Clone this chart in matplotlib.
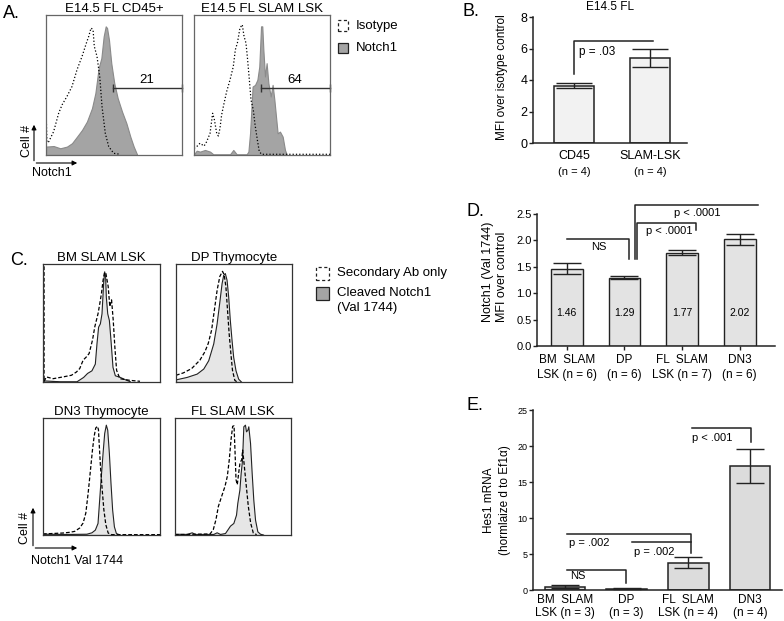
import numpy as np
import matplotlib.pyplot as plt
from matplotlib.patches import Rectangle, FancyArrowPatch

plt.rcParams['font.family'] = ['Liberation Sans', 'DejaVu Sans']

W, H = 784, 621

# ---------------- data ----------------
# A: flow histograms (x = channel, % of axis; y = % of max)
a1_title = 'E14.5 FL CD45+'
a1_notch_x = [0, 5.6, 10.5, 15.4, 19.1, 22.8, 26.5, 30.1, 33.8, 36.3, 38.7, 40.7, 42.4, 43.9,
              44.9, 46.3, 48.0, 50.2, 52.7, 55.9, 59.1, 62.0, 64.5, 66.9]
a1_notch_y = [6.0, 6.4, 4.8, 6.0, 8.4, 13.1, 17.9, 23.9, 33.4, 44.2, 62.1, 69.2, 84.7, 91.9,
              90.7, 82.3, 65.6, 51.3, 40.6, 31.0, 22.7, 13.1, 6.0, 0.5]
a1_iso_x = [0, 0.7, 2.0, 5.6, 9.3, 11.8, 15.4, 19.1, 22.8, 26.5, 29.7, 31.4, 33.1, 34.6, 35.5,
            37.5, 39.5, 41.2, 43.6, 46.1, 49.8, 54.7]
a1_iso_y = [34, 9, 9.5, 16.7, 29.8, 35.8, 41.8, 48.9, 60.9, 70.4, 80.0, 84.7, 90.7, 89.5, 77.6,
            70.4, 56.1, 34.6, 15.5, 6.0, 1.2, 0.5]

a2_title = 'E14.5 FL SLAM LSK'
a2_notch_x = [0, 2.0, 4.4, 8.1, 11.8, 14.2, 26.5, 28.9, 31.4, 38.7, 40.0, 41.2, 43.1, 44.9, 46.6,
              48.0, 49.3, 50.2, 51.0, 52.2, 53.4, 54.7, 56.4, 57.8, 59.1, 60.3, 61.5, 63.2, 65.2,
              66.9, 68.1]
a2_notch_y = [0.5, 3.1, 2.4, 3.6, 2.4, 0.5, 0.5, 3.6, 0.5, 0.5, 2.4, 15.5, 48.9, 50.1, 53.7,
              63.2, 91.9, 91.9, 75.2, 56.1, 65.6, 51.3, 41.8, 50.1, 39.4, 27.4, 15.5, 16.7, 13.1,
              3.6, 0.5]
a2_iso_x = [0, 2.0, 4.4, 7.4, 9.3, 11.8, 13.7, 15.0, 16.7, 17.9, 19.1, 20.3, 22.1, 24.0, 26.5,
            28.9, 30.4, 31.9, 33.8, 35.5, 36.8, 38.2, 39.2, 40.7, 41.9, 43.6, 44.9, 46.6, 48.0,
            49.8, 100]
a2_iso_y = [4.8, 6.0, 8.4, 6.4, 9.5, 15.5, 29.8, 25.1, 15.5, 13.6, 19.1, 28.6, 37.0, 45.3, 53.7,
            63.2, 75.2, 80.0, 90.7, 93.1, 84.7, 80.0, 70.4, 53.7, 39.4, 32.2, 21.5, 10.7, 2.4,
            0.5, 0.5]
a_gate_pct = ['21', '64']

# C: cleaved Notch1 (solid) vs secondary only (dashed)
c1_title = 'BM SLAM LSK'
c1_n1_x = [0, 14.3, 28.6, 34.3, 37.7, 41.4, 44.3, 45.7, 47.1, 48.6, 50.0, 51.4, 52.3, 53.1, 53.7,
           54.9, 56.3, 57.7, 59.4, 61.4, 65.7, 70.0, 74.3]
c1_n1_y = [1.4, 0.6, 0.6, 4.3, 7.7, 9.9, 15.6, 32.7, 46.9, 49.7, 58.2, 83.8, 93.8, 89.5, 72.4,
           58.2, 52.6, 35.5, 12.8, 5.7, 4.3, 2.3, 0.6]
c1_sec_x = [0.9, 0.9, 2.9, 8.6, 17.1, 24.3, 28.6, 31.4, 34.3, 37.1, 39.4, 42.3, 44.3, 47.1, 48.6,
            50.0, 51.4, 52.6, 53.7, 55.7, 57.1, 58.6, 60.0, 61.4, 62.9, 65.7, 74.3, 82.9]
c1_sec_y = [98, 0.5, 4.3, 2.8, 4.3, 5.7, 8.5, 11.4, 18.5, 21.3, 24.1, 35.5, 46.9, 58.2, 66.8,
            75.3, 86.6, 92.9, 92.3, 81.0, 63.9, 69.6, 52.6, 29.8, 9.9, 2.8, 1.4, 0.6]

c2_title = 'DP Thymocyte'
c2_n1_x = [0, 9.2, 17.8, 23.5, 27.8, 32.1, 35.0, 37.2, 39.3, 40.7, 42.1, 43.6, 45.0, 46.4, 47.9,
           49.3, 51.3, 53.6, 56.4]
c2_n1_y = [2.3, 4.3, 7.1, 11.4, 18.5, 32.7, 49.7, 66.8, 83.8, 90.9, 92.3, 86.6, 72.4, 52.6, 35.5,
           21.3, 9.9, 2.8, 0]
c2_sec_x = [0, 6.3, 13.5, 20.6, 24.9, 27.8, 30.7, 33.5, 35.5, 37.8, 40.1, 41.5, 43.0, 44.4, 45.8,
            47.3, 48.7, 50.7, 52.7]
c2_sec_y = [5.7, 7.7, 11.4, 18.5, 25.6, 32.7, 44.0, 63.9, 78.1, 89.5, 93.8, 90.9, 81.0, 61.1,
            41.2, 24.1, 9.9, 1.4, 0]

c3_title = 'DN3 Thymocyte'
c3_n1_x = [0, 20, 37.1, 41.4, 44.3, 46.6, 48.0, 49.4, 50.9, 52.3, 53.7, 54.9, 56.3, 57.7, 59.1,
           60.6, 62.3, 65.7]
c3_n1_y = [1.1, 0.9, 1.1, 2.3, 4.6, 10.3, 30.2, 50.1, 70.1, 87.2, 94.3, 90.0, 70.1, 44.4, 21.7,
           7.4, 1.7, 0.3]
c3_sec_x = [0, 17.1, 22.9, 27.1, 31.4, 34.3, 36.6, 38.6, 40.6, 42.3, 43.7, 45.1, 46.6, 47.4,
            48.0, 49.1, 50.6, 52.0, 53.7, 55.7, 58.6, 100]
c3_sec_y = [0.9, 1.7, 2.3, 3.1, 6.0, 10.3, 18.8, 35.9, 55.8, 72.9, 84.3, 91.5, 92.9, 90.0, 78.6,
            58.7, 38.7, 21.7, 8.8, 1.7, 0.3, 0.3]

c4_title = 'FL SLAM LSK'
c4_n1_x = [0, 10.1, 14.4, 17.2, 33.0, 35.9, 38.8, 43.1, 45.1, 47.4, 50.3, 52.6, 53.7, 55.5, 56.6,
           57.8, 58.9, 60.3, 61.2, 62.4, 63.2, 64.7, 66.1, 67.5, 69.0, 71.0, 73.3, 76.1]
c4_n1_y = [1.1, 0.9, 2.3, 0.9, 0.9, 2.3, 0.9, 1.7, 4.6, 8.0, 10.3, 17.4, 27.4, 38.7, 53.0, 64.4,
           92.9, 94.3, 88.6, 90.0, 92.9, 78.6, 53.0, 30.2, 13.1, 3.1, 1.1, 0.3]
c4_sec_x = [0, 30.2, 33.0, 35.3, 37.4, 40.2, 43.1, 45.1, 46.8, 48.3, 49.7, 50.9, 51.7, 52.6,
            53.7, 54.9, 56.0, 57.5, 58.3, 59.5, 61.2, 63.2, 65.2, 67.5, 70.4]
c4_sec_y = [0.3, 0.9, 4.6, 13.1, 24.5, 33.0, 41.6, 50.1, 64.4, 81.5, 92.9, 93.4, 72.6, 47.3,
            43.0, 53.0, 61.5, 64.4, 72.6, 61.5, 44.4, 24.5, 10.3, 1.7, 0.3]

# B: MFI over isotype control, E14.5 FL
b_groups = ['CD45', 'SLAM-LSK']
b_n = ['(n = 4)', '(n = 4)']
b_mean = [3.65, 5.42]
b_err = [0.15, 0.57]

# D: Notch1 (Val 1744) MFI over control
d_groups = ['BM  SLAM\nLSK (n = 6)', 'DP\n(n = 6)', 'FL  SLAM\nLSK (n = 7)', 'DN3\n(n = 6)']
d_mean = [1.46, 1.29, 1.77, 2.02]
d_err = [0.105, 0.03, 0.05, 0.11]

# E: Hes1 mRNA normalised to Ef1a
e_groups = ['BM  SLAM\nLSK (n = 3)', 'DP\n(n = 3)', 'FL  SLAM\nLSK (n = 4)', 'DN3\n(n = 4)']
e_mean = [0.45, 0.15, 3.8, 17.2]
e_err = [0.2, 0.06, 0.8, 2.4]

# ---------------- helpers ----------------
fig = plt.figure(figsize=(W / 100, H / 100), dpi=100)


def px_axes(x0, y0, x1, y1):
    return fig.add_axes([x0 / W, 1 - y1 / H, (x1 - x0) / W, (y1 - y0) / H])


def ftext(x, y, s, **kw):
    fig.text(x / W, 1 - y / H, s, **kw)


def arrow(x0, y0, x1, y1):
    fig.add_artist(FancyArrowPatch((x0 / W, 1 - y0 / H), (x1 / W, 1 - y1 / H),
                                   transform=fig.transFigure, arrowstyle='-|>',
                                   mutation_scale=7, lw=0.8, color='k'))


def swatch(x0, y0, x1, y1, **kw):
    fig.add_artist(Rectangle((x0 / W, 1 - y1 / H), (x1 - x0) / W, (y1 - y0) / H,
                             transform=fig.transFigure, **kw))


def flow_box(box, title, fx, fy, dx, dy, fill, edge, dash, frame):
    ax = px_axes(*box)
    ax.fill_between(fx, fy, 0, facecolor=fill, edgecolor=edge, lw=0.8)
    ax.plot(dx, dy, color='k', ls=dash, lw=0.9)
    ax.set_xlim(0, 100)
    ax.set_ylim(0, 100)
    ax.set_xticks([])
    ax.set_yticks([])
    for s in ax.spines.values():
        s.set_color(frame)
        s.set_linewidth(0.9)
    ax.set_title(title, fontsize=9.5, pad=2)
    return ax


def bar_axes(ax):
    ax.spines['top'].set_visible(False)
    ax.spines['right'].set_visible(False)
    for s in ['left', 'bottom']:
        ax.spines[s].set_linewidth(1.1)
        ax.spines[s].set_color('#222')
    ax.tick_params(axis='x', length=0)
    ax.tick_params(axis='y', length=3, width=1, color='#222', pad=1)


def bracket(ax, xs, ys):
    ax.plot(xs, ys, color='#222', lw=1.1, clip_on=False)


# ---------------- panel A ----------------
ftext(3, 13, 'A.', fontsize=13, va='center')
for box, title, nx, ny, ix, iy, pct in [
        ((46, 15, 182, 155), a1_title, a1_notch_x, a1_notch_y, a1_iso_x, a1_iso_y, a_gate_pct[0]),
        ((194, 15, 330, 155), a2_title, a2_notch_x, a2_notch_y, a2_iso_x, a2_iso_y, a_gate_pct[1])]:
    ax = flow_box(box, title, nx, ny, ix, iy, '#a4a4a4', '#8a8a8a', ':', '#666')
    ax.plot([49, 100], [47.7, 47.7], color='#333', lw=1.0, marker='|', markersize=6,
            clip_on=False)
    ax.text(74, 49.5, pct, ha='center', va='bottom', fontsize=9.5)

swatch(338, 20, 348, 31, facecolor='none', edgecolor='#222', lw=0.9, ls=(0, (2.5, 2)))
ftext(356, 26, 'Isotype', fontsize=9.5, va='center')
swatch(338, 43, 348, 53, facecolor='#a4a4a4', edgecolor='#222', lw=0.9)
ftext(356, 48, 'Notch1', fontsize=9.5, va='center')

arrow(34, 163.5, 34, 122)
arrow(33.5, 163, 80, 163)
ftext(27, 141, 'Cell #', fontsize=9, rotation=90, ha='center', va='center')
ftext(32, 173, 'Notch1', fontsize=9, va='center')

# ---------------- panel B ----------------
ftext(463, 11, 'B.', fontsize=13, va='center')
axb = px_axes(533, 17, 687, 143)
xb = np.arange(len(b_groups))
axb.bar(xb, b_mean, width=0.53, color='#f2f2f2', edgecolor='#222', lw=1.1)
axb.errorbar(xb, b_mean, yerr=b_err, fmt='none', ecolor='#222', elinewidth=1.0,
             capsize=13, capthick=1.0)
axb.set_xlim(-0.54, 1.49)
axb.set_ylim(0, 8)
axb.set_yticks([0, 2, 4, 6, 8])
axb.set_xticks(xb, b_groups, fontsize=9)
bar_axes(axb)
axb.tick_params(axis='x', pad=5)
axb.tick_params(axis='y', labelsize=9)
for i, n in enumerate(b_n):
    axb.text(i, -0.23, n, transform=axb.get_xaxis_transform(), ha='center', va='center',
             fontsize=8)
bracket(axb, [0, 0, 1.04], [4.4, 6.5, 6.5])
axb.text(0.07, 5.8, 'p = .03', fontsize=8.5, va='center')
ftext(610, 7, 'E14.5 FL', fontsize=8.5, ha='center', va='center')
ftext(502, 77, 'MFI over isotype control', fontsize=8.5, rotation=90, ha='center',
      va='center')

# ---------------- panel C ----------------
ftext(10, 260, 'C.', fontsize=13, va='center')
c_panels = [
    ((43, 264, 160, 382), c1_title, c1_n1_x, c1_n1_y, c1_sec_x, c1_sec_y),
    ((176, 264, 292, 382), c2_title, c2_n1_x, c2_n1_y, c2_sec_x, c2_sec_y),
    ((43, 418, 160, 535), c3_title, c3_n1_x, c3_n1_y, c3_sec_x, c3_sec_y),
    ((175, 418, 291, 535), c4_title, c4_n1_x, c4_n1_y, c4_sec_x, c4_sec_y),
]
for box, title, nx, ny, sx, sy in c_panels:
    flow_box(box, title, nx, ny, sx, sy, '#e6e6e6', '#222', (0, (3, 1.6)), '#333')

swatch(316, 267, 329, 280, facecolor='none', edgecolor='#222', lw=0.9, ls=(0, (2.5, 2)))
ftext(337, 273, 'Secondary Ab only', fontsize=9.5, va='center')
swatch(316, 287, 329, 300, facecolor='#a4a4a4', edgecolor='#222', lw=0.9)
ftext(337, 293, 'Cleaved Notch1', fontsize=9.5, va='center')
ftext(337, 308, '(Val 1744)', fontsize=9.5, va='center')

arrow(33, 548.5, 33, 505)
arrow(32.5, 548, 80, 548)
ftext(25, 528, 'Cell #', fontsize=9, rotation=90, ha='center', va='center')
ftext(31, 561, 'Notch1 Val 1744', fontsize=9, va='center')

# ---------------- panel D ----------------
ftext(466, 211, 'D.', fontsize=13, va='center')
axd = px_axes(537, 214, 775, 346)
xd = np.arange(len(d_groups))
axd.bar(xd, d_mean, width=0.55, color='#e3e3e3', edgecolor='#222', lw=1.0)
axd.errorbar(xd, d_mean, yerr=d_err, fmt='none', ecolor='#222', elinewidth=1.0,
             capsize=10, capthick=1.0)
for i, v in enumerate(d_mean):
    axd.text(i, 0.625, f'{v:.2f}', ha='center', va='center', fontsize=7.5)
axd.set_xlim(-0.515, 3.61)
axd.set_ylim(0, 2.5)
axd.set_yticks([0, 0.5, 1.0, 1.5, 2.0, 2.5])
axd.set_yticklabels([f'{t:.1f}' for t in axd.get_yticks()])
axd.set_xticks(xd, d_groups, fontsize=8.5, linespacing=1.25)
bar_axes(axd)
axd.tick_params(axis='x', length=3, width=1, color='#222', pad=3)
axd.tick_params(axis='y', labelsize=8)
bracket(axd, [0, 1.08, 1.08], [2.02, 2.02, 1.65])
axd.text(0.56, 1.87, 'NS', ha='center', va='center', fontsize=8)
bracket(axd, [1.18, 1.18, 3.32], [1.65, 2.67, 2.67])
axd.text(2.26, 2.52, 'p < .0001', ha='center', va='center', fontsize=8)
bracket(axd, [1.22, 1.22, 2.24, 2.24], [1.65, 2.33, 2.33, 2.2])
axd.text(1.78, 2.17, 'p < .0001', ha='center', va='center', fontsize=8)
ftext(495, 272, 'Notch1 (Val 1744)\nMFI over control', fontsize=9, rotation=90,
      ha='center', va='center', multialignment='left')

# ---------------- panel E ----------------
ftext(466, 405, 'E.', fontsize=13, va='center')
axe = px_axes(533, 410, 782, 590)
xe = np.arange(len(e_groups))
axe.bar(xe, e_mean, width=0.66, color='#dcdcdc', edgecolor='#222', lw=1.1)
axe.errorbar(xe, e_mean, yerr=e_err, fmt='none', ecolor='#222', elinewidth=1.0,
             capsize=10, capthick=1.0)
axe.set_xlim(-0.52, 3.52)
axe.set_ylim(0, 25)
axe.set_yticks([0, 5, 10, 15, 20, 25])
axe.set_xticks(xe, e_groups, fontsize=8.5, linespacing=1.05)
bar_axes(axe)
axe.tick_params(axis='x', pad=3)
axe.tick_params(axis='y', labelsize=6.5)
bracket(axe, [0.03, 0.99, 0.99], [2.8, 2.8, 1.0])
axe.text(0.2, 2.0, 'NS', ha='center', va='center', fontsize=8)
bracket(axe, [0.03, 2.04, 2.04], [7.8, 7.8, 5.1])
axe.text(0.06, 6.5, 'p = .002', ha='left', va='center', fontsize=8)
bracket(axe, [1.09, 2.04], [6.6, 6.6])
axe.text(1.44, 5.3, 'p = .002', ha='center', va='center', fontsize=8)
bracket(axe, [2.06, 3.02, 3.02], [22.5, 22.5, 20.5])
axe.text(2.38, 21.1, 'p < .001', ha='center', va='center', fontsize=8)
ftext(497, 500, 'Hes1 mRNA\n(hormlaize d to Ef1α)', fontsize=8.5, rotation=90,
      ha='center', va='center', linespacing=1.4)

fig.savefig('out.png', dpi=100)
